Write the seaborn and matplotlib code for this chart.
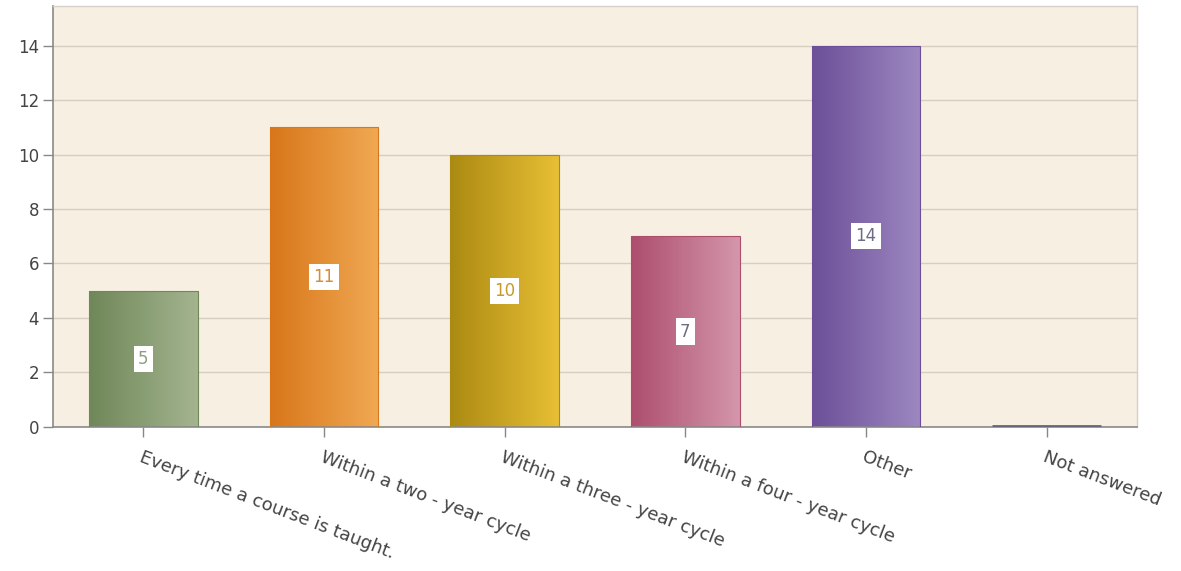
import numpy as np
import pandas as pd
import matplotlib
matplotlib.use("Agg")
import matplotlib.pyplot as plt
import matplotlib.transforms as mtransforms
import seaborn as sns
from matplotlib.colors import LinearSegmentedColormap

categories = [
    "Every time a course is taught.",
    "Within a two - year cycle",
    "Within a three - year cycle",
    "Within a four - year cycle",
    "Other",
    "Not answered",
]
counts = [5, 11, 10, 7, 14, 0]
y_ticks = [0, 2, 4, 6, 8, 10, 12, 14]

# left / right gradient colours per bar, and label text colour
grad_left = ["#6f8759", "#d8761a", "#ab8a12", "#ad4e6e", "#6c4f98", "#555555"]
grad_right = ["#a4b48f", "#f0a953", "#e8bf35", "#d496ab", "#9d88c1", "#777777"]
label_colors = ["#8f9c86", "#d58c3a", "#c49c28", "#6e6e80", "#6c6c84", "#555555"]

sns.set_theme(style="white")
plt.rcParams["font.family"] = ["DejaVu Sans"]

df = pd.DataFrame({"category": categories, "count": counts})

fig = plt.figure(figsize=(11.81, 5.71), dpi=100)
ax = fig.add_axes([0.0449, 0.2522, 0.9178, 0.7373])
ax.set_facecolor("#f7efe1")

sns.barplot(data=df, x="category", y="count", ax=ax, width=0.6,
            color="#888888", edgecolor="none", saturation=1)

ax.set_xlim(-0.5, 5.5)
ax.set_ylim(0, 15.45)

# gradient fill for each bar, clipped to its patch
gradient = np.linspace(0, 1, 256).reshape(1, -1)
for patch, c0, c1 in zip(ax.patches, grad_left, grad_right):
    x0 = patch.get_x()
    w = patch.get_width()
    h = patch.get_height()
    if h <= 0:
        continue
    cmap = LinearSegmentedColormap.from_list("g", [c0, c1])
    im = ax.imshow(gradient, cmap=cmap, aspect="auto",
                   extent=[x0, x0 + w, 0, h], zorder=2)
    im.set_clip_path(patch)
    patch.set_facecolor("none")
    patch.set_edgecolor(c0)
    patch.set_linewidth(0.8)
    patch.set_zorder(3)

# the empty bar is drawn as a thin line on the baseline
for i, (v, c) in enumerate(zip(counts, grad_left)):
    if v == 0:
        ax.plot([i - 0.3, i + 0.3], [0.02, 0.02], color="#666677",
                lw=2, zorder=4, solid_capstyle="butt")

# value labels in white boxes at bar mid-height
for i, (v, tc) in enumerate(zip(counts, label_colors)):
    if v > 0:
        ax.text(i, v / 2, str(v), ha="center", va="center", fontsize=12,
                color=tc, zorder=5,
                bbox=dict(boxstyle="square,pad=0.25", fc="white", ec="none"))

ax.set_yticks(y_ticks)
ax.yaxis.grid(True, color="#d6cebf", lw=1)
ax.set_axisbelow(True)

ax.set_xlabel("")
ax.set_ylabel("")
ax.set_xticks(range(len(categories)))
ax.set_xticklabels(categories, rotation=-21, ha="left", va="top",
                   rotation_mode="anchor", fontsize=13, color="#444444")
shift = mtransforms.ScaledTranslation(5 / 100, 0, fig.dpi_scale_trans)
for lbl in ax.get_xticklabels():
    lbl.set_transform(lbl.get_transform() + shift)
ax.tick_params(axis="y", labelsize=12, colors="#444444", length=7,
               width=1, color="#888888", pad=3, direction="out", left=True)
ax.tick_params(axis="x", length=7, width=1, color="#888888", pad=8,
               direction="out", bottom=True)
for lbl in ax.get_yticklabels():
    lbl.set_color("#444444")

for side in ["left", "bottom"]:
    ax.spines[side].set_color("#8a8a8a")
    ax.spines[side].set_linewidth(1.2)
for side in ["top", "right"]:
    ax.spines[side].set_color("#d5d0c8")
    ax.spines[side].set_linewidth(1)

fig.savefig("out.png", dpi=100, facecolor="white")
